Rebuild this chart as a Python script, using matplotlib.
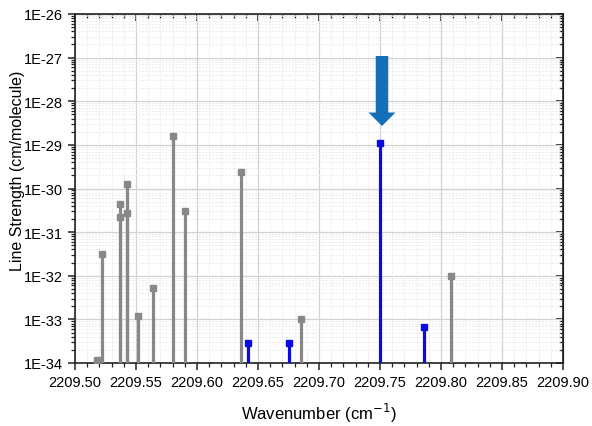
import numpy as np
import matplotlib
matplotlib.use("Agg")
import matplotlib.pyplot as plt
from matplotlib.ticker import FixedLocator, FuncFormatter, LogLocator, NullFormatter, MultipleLocator
from matplotlib.patches import FancyArrow

plt.rcParams['font.family'] = ['Liberation Sans', 'DejaVu Sans']

# Other-species lines (gray)
gray_x = [2209.518, 2209.522, 2209.537, 2209.537, 2209.543, 2209.543, 2209.552,
          2209.564, 2209.580, 2209.590, 2209.636, 2209.685, 2209.808]
gray_s = [1.2e-34, 3.1e-32, 4.4e-31, 2.2e-31, 1.3e-30, 2.8e-31, 1.2e-33,
          5.2e-33, 1.6e-29, 3.0e-31, 2.4e-30, 1.0e-33, 1.0e-32]
# Target-species lines (blue)
blue_x = [2209.642, 2209.675, 2209.750, 2209.786]
blue_s = [2.8e-34, 2.8e-34, 1.1e-29, 6.6e-34]
# very weak lines, visible only at the baseline (cyan)
weak_x = [2209.562, 2209.611, 2209.632, 2209.648, 2209.684, 2209.768, 2209.808, 2209.824, 2209.868]

xticks = [2209.50, 2209.55, 2209.60, 2209.65, 2209.70, 2209.75, 2209.80, 2209.85, 2209.90]
yexp = [-34, -33, -32, -31, -30, -29, -28, -27, -26]

W, H = 592, 427
fig = plt.figure(figsize=(W / 100, H / 100), dpi=100)
L, R, T, B = 75, 563, 15, 364
ax = fig.add_axes([L / W, 1 - B / H, (R - L) / W, (B - T) / H])

ax.set_yscale('log')
ax.set_xlim(xticks[0], xticks[-1])
ax.set_ylim(10.0 ** yexp[0], 10.0 ** yexp[-1])

base = 10.0 ** yexp[0]
ax.vlines(gray_x, base, gray_s, color='#888888', lw=2.3, zorder=3)
ax.plot(gray_x, gray_s, 's', color='#888888', ms=4, zorder=4)
ax.vlines(blue_x, base, blue_s, color='#0a0ae6', lw=2.3, zorder=3)
ax.plot(blue_x, blue_s, 's', color='#0a0ae6', ms=4, zorder=4)
ax.plot(weak_x, [base] * len(weak_x), '_', color='#7fdcec', ms=5, mew=1.5,
        clip_on=False, zorder=2)

ax.xaxis.set_major_locator(FixedLocator(xticks))
ax.xaxis.set_major_formatter(FuncFormatter(lambda v, p: f"{v:.2f}"))
ax.xaxis.set_minor_locator(MultipleLocator(0.01))
ax.yaxis.set_major_locator(FixedLocator([10.0 ** e for e in yexp]))
ax.yaxis.set_major_formatter(FuncFormatter(lambda v, p: f"1E{int(round(np.log10(v)))}"))
ax.yaxis.set_minor_locator(LogLocator(base=10, subs=np.arange(2, 10), numticks=50))
ax.yaxis.set_minor_formatter(NullFormatter())

ax.grid(which='major', color='#d2d2d2', lw=0.9, zorder=0)
ax.grid(which='minor', color='#e6e6e6', lw=0.6, ls=(0, (2, 2)), zorder=0)
ax.set_axisbelow(True)

for s in ax.spines.values():
    s.set_linewidth(1.2)
    s.set_color('#222222')

ax.tick_params(which='both', direction='out', labelsize=10.5, color='#222222')
ax.tick_params(which='major', length=5, width=1.1)
ax.tick_params(which='minor', length=3, width=0.9)

# mirrored inward ticks on top and right
axt = ax.secondary_xaxis('top')
axt.xaxis.set_major_locator(FixedLocator(xticks))
axt.xaxis.set_minor_locator(MultipleLocator(0.01))
axt.tick_params(which='both', direction='in', labeltop=False)
axt.tick_params(which='major', length=5, width=1.1)
axt.tick_params(which='minor', length=3, width=0.9)
axr = ax.secondary_yaxis('right')
axr.yaxis.set_major_locator(FixedLocator([10.0 ** e for e in yexp]))
axr.yaxis.set_minor_locator(LogLocator(base=10, subs=np.arange(2, 10), numticks=50))
axr.tick_params(which='both', direction='in', labelright=False)
axr.tick_params(which='major', length=5, width=1.1)
axr.tick_params(which='minor', length=3, width=0.9)

ax.set_xlabel('Wavenumber (cm$^{-1}$)', fontsize=12)
ax.xaxis.set_label_coords(0.5, -0.108)
ax.set_ylabel('Line Strength (cm/molecule)', fontsize=11.5)
ax.yaxis.set_label_coords(-0.102, 0.553)

# block arrow pointing at the target line
arr = FancyArrow(3.82, 3.70, 0, -0.70, width=0.125, head_width=0.27, head_length=0.135,
                 length_includes_head=True, color='#1670b8', lw=0,
                 transform=fig.dpi_scale_trans)
fig.add_artist(arr)

fig.savefig('out.png', dpi=100)
